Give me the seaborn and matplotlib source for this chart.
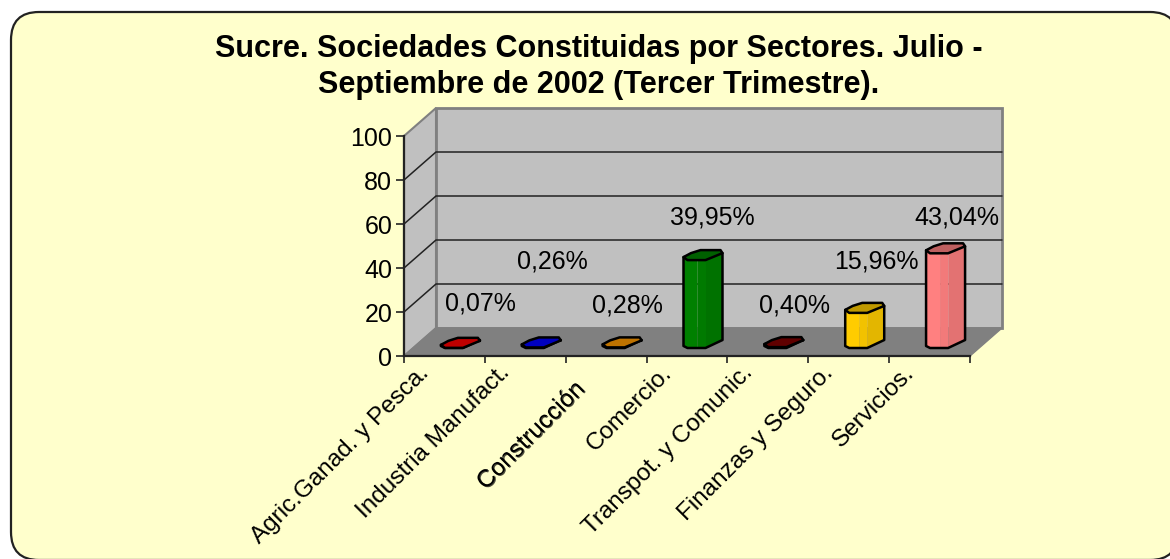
# -*- coding: utf-8 -*-
import numpy as np
import matplotlib
matplotlib.use('Agg')
import matplotlib.pyplot as plt
import matplotlib.patheffects as pe
from matplotlib.patches import Polygon, FancyBboxPatch
from matplotlib.transforms import Affine2D, ScaledTranslation
from matplotlib.colors import to_rgb
import seaborn as sns

sectores = ['Agric.Ganad. y Pesca.', 'Industria Manufact.', 'Construcción', 'Comercio.',
            'Transpot. y Comunic.', 'Finanzas y Seguro.', 'Servicios.']
valores = [0.07, 0.26, 0.28, 39.95, 0.40, 15.96, 43.04]
etiquetas = ['0,07%', '0,26%', '0,28%', '39,95%', '0,40%', '15,96%', '43,04%']
colores = ['#FF0000', '#0000FF', '#FF9900', '#008000', '#800000', '#FFCC00', '#FF8080']
yticks = [0, 20, 40, 60, 80, 100]
titulo = 'Sucre. Sociedades Constituidas por Sectores. Julio -\nSeptiembre de 2002 (Tercer Trimestre).'

W, H = 1170, 559
# frente del grafico en pixeles de la imagen y profundidad de las paredes
X0, X1, Y0, Y1 = 404, 970, 356, 136
DX, DY = 32, -28
# centro de las etiquetas de datos (pixeles)
pos_etiquetas = [(480, 304), (552, 262), (627, 306), (712, 218), (794, 306), (876, 261), (957, 218)]

sns.set_theme(style='white')
plt.rcParams['font.family'] = ['Liberation Sans', 'DejaVu Sans']

fig = plt.figure(figsize=(W / 100, H / 100), dpi=100, facecolor='white')
px = Affine2D().scale(1, -1).translate(0, H)  # pixeles con y hacia abajo

# fondo redondeado, se sale un poco por la derecha y abajo
fondo = FancyBboxPatch((39, 40), 1111, 492, boxstyle='round,pad=28,rounding_size=28',
                       transform=px, fc='#FFFFCC', ec='#222222', lw=1.6)
fig.add_artist(fondo)


def caja(x0, x1, y0, y1):
    return [x0 / W, (H - y0) / H, (x1 - x0) / W, (y0 - y1) / H]


ax = fig.add_axes(caja(X0, X1, Y0, Y1), facecolor='none', zorder=1)
ax.set_xlim(-0.5, 6.5)
ax.set_ylim(0, 100)
sns.despine(ax=ax)
ax.spines['left'].set(color='#222222', lw=1.6)
ax.spines['bottom'].set(color='#222222', lw=1.6)
ax.set_yticks(yticks)
ax.set_xticks(np.arange(-0.5, 7, 1))
ax.set_xticklabels([])
ax.set_xticks(np.arange(7), labels=sectores, minor=True)
ax.tick_params(axis='y', left=True, length=5.5, width=1.2, color='#222222', pad=3, labelsize=18, labelcolor='black')
ax.tick_params(axis='x', which='major', bottom=True, length=5, width=1.2, color='#222222')
ax.tick_params(axis='x', which='minor', bottom=False, length=0, pad=4, labelsize=17.5, labelcolor='black')
for lab in ax.get_xticklabels(minor=True):
    # Construccion sale mas abajo y emborronada en el original
    if lab.get_text() == 'Construcción':
        corrimiento = ScaledTranslation(-23.5 / 72, -12 / 72, fig.dpi_scale_trans)
        lab.set_path_effects([pe.SimplePatchShadow(offset=(0.8, -0.6), shadow_rgbFace='black', alpha=0.7), pe.Normal()])
    else:
        corrimiento = ScaledTranslation(-19 / 72, 0, fig.dpi_scale_trans)
    lab.set(rotation=45, ha='right', va='top', rotation_mode='anchor')
    lab.set_transform(lab.get_transform() + corrimiento)


def py(v):
    return H - ax.transData.transform((0, v))[1]


# paredes y suelo
gris = '#C0C0C0'
ax.add_patch(Polygon([(X0, Y0), (X0 + DX, Y0 + DY), (X0 + DX, Y1 + DY), (X0, Y1)], transform=px,
                     fc=gris, ec='#808080', lw=1.5, clip_on=False, zorder=0.5))
ax.add_patch(Polygon([(X0 + DX, Y1 + DY), (X1 + DX, Y1 + DY), (X1 + DX, Y0 + DY), (X0 + DX, Y0 + DY)], transform=px,
                     fc=gris, ec='#808080', lw=2, clip_on=False, zorder=0.5))
ax.add_patch(Polygon([(X0, Y0), (X0 + DX, Y0 + DY), (X1 + DX, Y0 + DY), (X1, Y0)], transform=px,
                     fc='#808080', ec='#808080', lw=1, clip_on=False, zorder=0.6))
for t in yticks[1:-1]:
    y = py(t)
    ax.plot([X0, X0 + DX, X1 + DX], [y, y + DY, y + DY], color='#222222', lw=1.1, transform=px,
            clip_on=False, zorder=0.7)

# barras: ejes a media profundidad
ax2 = fig.add_axes(caja(X0 + 16, X1 + 16, Y0 - 13, Y1 - 13), facecolor='none', zorder=2)
sns.barplot(x=sectores, y=valores, hue=sectores, palette=dict(zip(sectores, colores)), legend=False,
            width=39 / 80.86, saturation=1, ax=ax2)
ax2.set_xlim(-0.5, 6.5)
ax2.set_ylim(0, 100)
ax2.axis('off')

# perfil delantero y tapa del cilindro, relativos al centro
perfil_x = [-19.5, -15.5, 2.5, 19.5]
perfil_y = [3, 5, 5, -3]
tapa = [(-19.5, 2), (-12, -2), (-2.5, -5), (17.5, -5), (19.5, -2), (2.5, 5), (-15.5, 5)]
franjas = [(-19.5, -5.5, 1.0), (-5.5, 3, 0.95), (3, 19.5, 0.89)]


def sombra(c, f):
    return tuple(np.array(to_rgb(c)) * f)


barras = sorted(ax2.patches, key=lambda b: b.get_x())
for barra, color in zip(barras, colores):
    (xa, ybase), (xb, ytop) = ax2.transData.transform(
        [(barra.get_x(), 0), (barra.get_x() + barra.get_width(), barra.get_height())])
    cx = (xa + xb) / 2
    ybase, ytop = H - ybase, H - ytop
    barra.set_visible(False)
    for f0, f1, f in franjas:
        xs = sorted(set([f0, f1] + [p for p in perfil_x if f0 < p < f1]))
        off = np.interp(xs, perfil_x, perfil_y)
        pts = [(cx + x, ytop + o) for x, o in zip(xs, off)]
        pts += [(cx + x, ybase + o) for x, o in zip(xs[::-1], off[::-1])]
        ax2.add_patch(Polygon(pts, transform=px, fc=sombra(color, f), ec='none', clip_on=False))
    cont = [(cx + x, ybase + o) for x, o in zip(perfil_x, perfil_y)]
    cont += [(cx + 19.5, ytop - 2), (cx - 19.5, ytop + 2)]
    ax2.add_patch(Polygon(cont, transform=px, fc='none', ec='black', lw=1.8, joinstyle='round', clip_on=False))
    ax2.add_patch(Polygon([(cx + x, ytop + y) for x, y in tapa], transform=px, fc=sombra(color, 0.75),
                          ec='black', lw=1.8, joinstyle='round', clip_on=False))

for txt, (x, y) in zip(etiquetas, pos_etiquetas):
    ax2.text(x, y, txt, transform=px, ha='center', va='center', fontsize=18, color='black', clip_on=False)

ax2.text(598.5, 67, titulo, transform=px, ha='center', va='center', fontsize=22, fontweight='bold',
         color='black', linespacing=1.25, clip_on=False)

fig.savefig('out.png', dpi=100, facecolor='white')
